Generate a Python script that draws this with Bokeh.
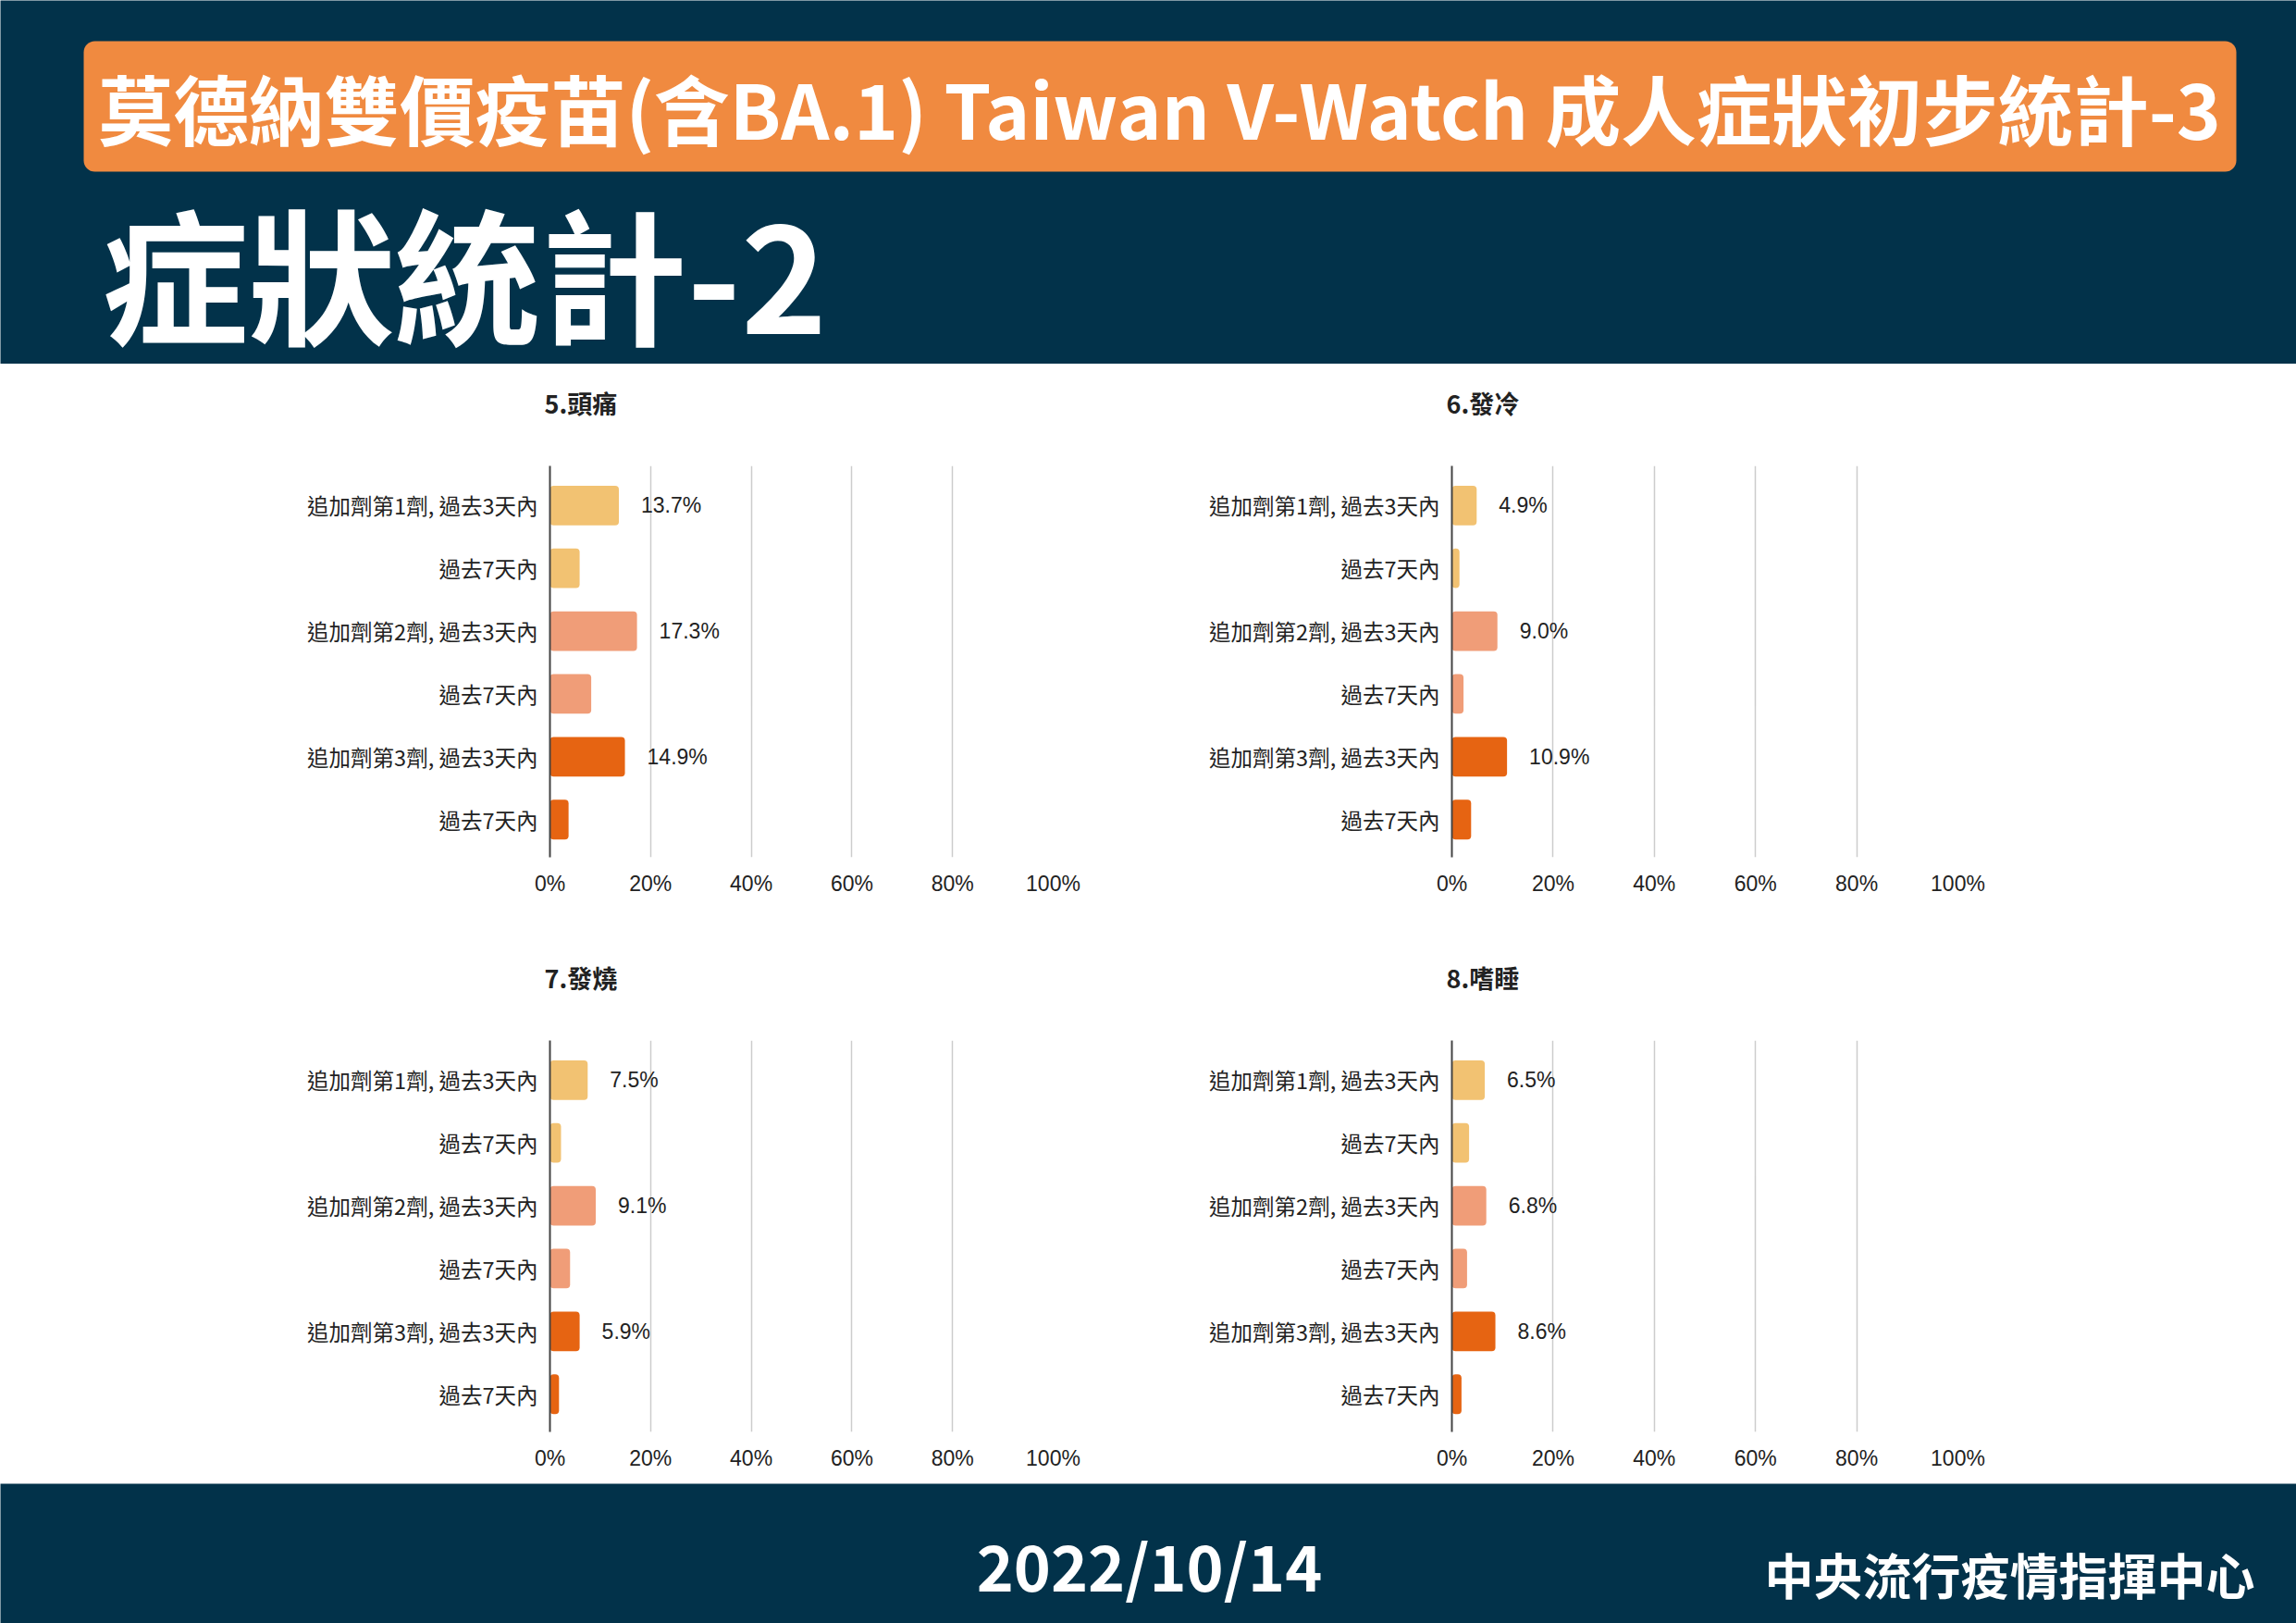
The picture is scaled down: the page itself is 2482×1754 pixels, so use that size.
from bokeh.plotting import figure
from bokeh.models import Range1d, FixedTicker, PrintfTickFormatter, ColumnDataSource, Title
from bokeh.layouts import column, row
from bokeh.core.properties import value
from bokeh.embed import file_html
from bokeh.resources import INLINE

# ---------------- data ----------------
main_title = "莫德納雙價疫苗(含BA.1) Taiwan V-Watch 成人症狀初步統計-3"
sub_title = "症狀統計-2"
date_text = "2022/10/14"
org_text = "中央流行疫情指揮中心"

categories = ["追加劑第1劑, 過去3天內", "過去7天內",
              "追加劑第2劑, 過去3天內", "過去7天內",
              "追加劑第3劑, 過去3天內", "過去7天內"]
chart_titles = ["5.頭痛", "6.發冷", "7.發燒", "8.嗜睡"]
headache = [13.7, 5.9, 17.3, 8.2, 14.9, 3.7]
chills = [4.9, 1.5, 9.0, 2.3, 10.9, 3.8]
fever = [7.5, 2.2, 9.1, 4.0, 5.9, 1.8]
drowsy = [6.5, 3.4, 6.8, 3.0, 8.6, 1.9]
labelled_rows = [0, 2, 4]
x_ticks = [0, 20, 40, 60, 80, 100]

bar_colors = ["#F2C272", "#F2C272", "#F09D78", "#F09D78", "#E66412", "#E66412"]
NAVY = "#02324A"
ORANGE = "#F08A40"
CJK = "Noto Sans CJK TC"
LAT = "Liberation Sans"


def deco_fig(w, h, x0, x1, y0, y1):
    p = figure(width=w, height=h, x_range=Range1d(x0, x1), y_range=Range1d(y1, y0),
               output_backend="svg", toolbar_location=None,
               x_axis_type=None, y_axis_type=None, min_border=0)
    p.grid.visible = False
    p.outline_line_color = None
    p.background_fill_color = NAVY
    p.border_fill_color = NAVY
    return p


# ---------------- header ----------------
header = deco_fig(2482, 393, 0, 2482, 0, 393)
header.quad(left=[90], right=[2417], top=[44], bottom=[185], fill_color=ORANGE,
            line_color=None, border_radius=12)
header.text(x=[1253], y=[114], text=[main_title], text_align="center",
            text_baseline="middle", text_font=value(CJK), text_font_style="bold",
            text_font_size="81.5px", text_color="white")
header.text(x=[110], y=[292], text=[sub_title], text_align="left",
            text_baseline="middle", text_font=value(CJK), text_font_style="bold",
            text_font_size="158px", text_color="white")


# ---------------- charts ----------------
def chart(title, vals, left, right, top, bottom):
    p = figure(width=1241, height=605, x_range=Range1d(0, 100), y_range=Range1d(5.6, -0.63),
               output_backend="svg", toolbar_location=None,
               min_border_left=left, min_border_right=right,
               min_border_top=top, min_border_bottom=bottom)
    p.outline_line_color = None
    p.background_fill_color = "white"
    p.border_fill_color = "white"
    idx = list(range(len(categories)))
    src = ColumnDataSource(dict(y=idx, v=vals, c=bar_colors))
    p.hbar(y="y", left=0, right="v", height=0.63, fill_color="c", line_color=None,
           border_radius=4, source=src)
    lsrc = ColumnDataSource(dict(y=[idx[i] for i in labelled_rows],
                                 v=[vals[i] for i in labelled_rows],
                                 t=["%.1f%%" % vals[i] for i in labelled_rows]))
    p.text(x="v", y="y", text="t", source=lsrc, x_offset=24, text_align="left",
           text_baseline="middle", text_font=value(LAT), text_font_size="23px",
           text_color="#222222")
    # y axis
    p.yaxis.ticker = FixedTicker(ticks=idx)
    p.yaxis.major_label_overrides = {i: categories[i] for i in idx}
    p.yaxis.major_label_text_font = CJK
    p.yaxis.major_label_text_font_size = "23.5px"
    p.yaxis.major_label_text_color = "#222222"
    p.yaxis.major_tick_line_color = None
    p.yaxis.minor_tick_line_color = None
    p.yaxis.axis_line_color = "#444444"
    p.yaxis.axis_line_width = 2
    p.yaxis.major_label_standoff = 7
    # x axis
    p.xaxis.ticker = FixedTicker(ticks=x_ticks)
    p.xaxis.formatter = PrintfTickFormatter(format="%d%%")
    p.xaxis.major_label_text_font = LAT
    p.xaxis.major_label_text_font_size = "23px"
    p.xaxis.major_label_text_color = "#222222"
    p.xaxis.major_tick_line_color = None
    p.xaxis.minor_tick_line_color = None
    p.xaxis.axis_line_color = None
    p.xaxis.major_label_standoff = 9
    # grid
    p.ygrid.visible = False
    p.xgrid.ticker = FixedTicker(ticks=x_ticks[1:])
    p.xgrid.grid_line_color = "#CCCCCC"
    p.xgrid.grid_line_width = 1.5
    # title: a thin spacer next to the frame, then the real title above it
    p.title.text = ""
    p.add_layout(Title(text=" ", text_font_size="1px", standoff=44), "above")
    p.add_layout(Title(text=title, align="left", offset=-6, standoff=4,
                       text_font=CJK, text_font_style="bold", text_font_size="27px",
                       text_color="#222222"), "above")
    return p


tl = chart(chart_titles[0], headache, 594, 103, 110, 72)
tr = chart(chart_titles[1], chills, 328, 366, 110, 72)
bl = chart(chart_titles[2], fever, 594, 103, 126, 56)
br = chart(chart_titles[3], drowsy, 328, 366, 126, 56)

# ---------------- footer ----------------
footer = deco_fig(2482, 151, 0, 2482, 1603, 1754)
footer.text(x=[1242], y=[1690], text=[date_text], text_align="center",
            text_baseline="middle", text_font=value(CJK), text_font_style="bold",
            text_font_size="68px", text_color="white")
footer.text(x=[2172], y=[1700], text=[org_text], text_align="center",
            text_baseline="middle", text_font=value(CJK), text_font_style="bold",
            text_font_size="53px", text_color="white")

layout = column(header, row(tl, tr), row(bl, br), footer)
open("out.html", "w").write(file_html(layout, INLINE))
